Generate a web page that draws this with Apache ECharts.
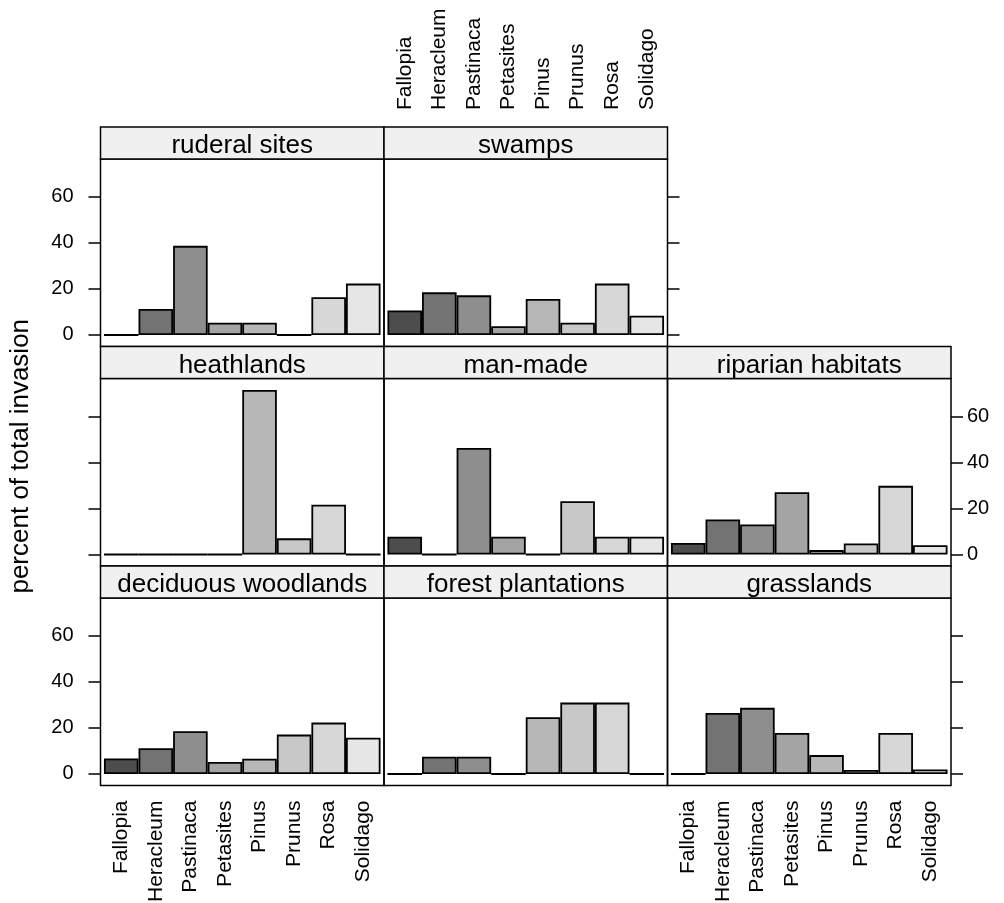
<!DOCTYPE html>
<html>
<head>
<meta charset="utf-8">
<script src="https://cdn.jsdelivr.net/npm/echarts@6/dist/echarts.min.js"></script>
<style>
html,body{margin:0;padding:0;background:#fff;}
#chart{width:1004px;height:903px;}
</style>
</head>
<body>
<div id="chart"></div>
<script>
// ---------------- data ----------------
const species = ['Fallopia', 'Heracleum', 'Pastinaca', 'Petasites', 'Pinus', 'Prunus', 'Rosa', 'Solidago'];
const yTicks = [0, 20, 40, 60];
const yTitle = 'percent of total invasion';

const ruderalSites       = [0, 11.3, 38.7, 5.3, 5.3, 0, 16.4, 22.3];
const swamps             = [10.6, 18.5, 17.2, 3.8, 15.6, 5.3, 22.3, 8.4];
const heathlands         = [0, 0, 0, 0, 71.4, 7.0, 21.6, 0];
const manMade            = [7.7, 0, 46.2, 7.7, 0, 23.1, 7.7, 7.7];
const riparianHabitats   = [5.0, 15.2, 13.0, 27.0, 1.9, 4.8, 29.8, 4.0];
const deciduousWoodlands = [6.7, 11.2, 18.6, 5.2, 6.6, 17.1, 22.3, 15.7];
const forestPlantations  = [0, 7.5, 7.5, 0, 24.6, 31.0, 31.0, 0];
const grasslands         = [0, 26.5, 28.7, 17.8, 8.2, 1.7, 17.8, 2.0];

// ---------------- style / layout ----------------
const barColors = ['#4D4D4D', '#737373', '#8E8E8E', '#A4A4A4', '#B7B7B7', '#C8C8C8', '#D7D7D7', '#E6E6E6'];
const FONT = "'Liberation Sans', Arial, Helvetica, sans-serif";
const Y_MIN = -5, Y_MAX = 76.4, X_MIN = 0.4, X_MAX = 8.6;
const X0 = 100.5, COLW = 283.5, Y0 = 127, ROWH = 219.5, STRIPH = 32, PLOTH = 187.5;

const panels = [
  {name: 'ruderal sites',       values: ruderalSites,       row: 0, col: 0, ySide: 'left',  yLabels: true},
  {name: 'swamps',              values: swamps,             row: 0, col: 1, ySide: 'right', yLabels: false, xSide: 'top'},
  {name: 'heathlands',          values: heathlands,         row: 1, col: 0, ySide: 'left',  yLabels: false},
  {name: 'man-made',            values: manMade,            row: 1, col: 1},
  {name: 'riparian habitats',   values: riparianHabitats,   row: 1, col: 2, ySide: 'right', yLabels: true},
  {name: 'deciduous woodlands', values: deciduousWoodlands, row: 2, col: 0, ySide: 'left',  yLabels: true, xSide: 'bottom'},
  {name: 'forest plantations',  values: forestPlantations,  row: 2, col: 1},
  {name: 'grasslands',          values: grasslands,         row: 2, col: 2, ySide: 'right', yLabels: false, xSide: 'bottom'}
];

const grids = [], xAxes = [], yAxes = [], series = [], graphics = [];

panels.forEach((p, i) => {
  const left = X0 + p.col * COLW;
  const stripTop = Y0 + p.row * ROWH;
  const plotTop = stripTop + STRIPH;

  grids.push({
    left: left, top: plotTop, width: COLW, height: PLOTH,
    show: true, borderColor: '#000', borderWidth: 1.5, backgroundColor: 'transparent',
    containLabel: false, outerBoundsMode: 'none'
  });

  xAxes.push({
    gridIndex: i, type: 'value', min: X_MIN, max: X_MAX,
    position: p.xSide || 'bottom', show: !!p.xSide,
    axisLine: {show: false}, axisTick: {show: false}, splitLine: {show: false},
    axisLabel: {
      show: !!p.xSide, rotate: 90,
      customValues: species.map((s, k) => k + 1),
      formatter: v => species[Math.round(v) - 1] || '',
      margin: p.xSide === 'top' ? 49 : 15,
      fontSize: 21, color: '#000', fontFamily: FONT
    }
  });

  yAxes.push({
    gridIndex: i, type: 'value', min: Y_MIN, max: Y_MAX,
    position: p.ySide || 'left', show: !!p.ySide,
    axisLine: {show: false}, splitLine: {show: false},
    axisTick: {show: !!p.ySide, inside: false, length: 12, customValues: yTicks,
               lineStyle: {color: '#000', width: 1.5}},
    axisLabel: {show: !!p.yLabels, customValues: yTicks,
                margin: p.ySide === 'right' ? 16 : 27,
                fontSize: 20, color: '#000', fontFamily: FONT}
  });

  series.push({
    type: 'bar', xAxisIndex: i, yAxisIndex: i, barWidth: '100%',
    silent: true,
    itemStyle: {borderColor: '#000', borderWidth: 1.8},
    data: p.values.map((v, k) => ({value: [k + 1, v], itemStyle: {color: barColors[k]}}))
  });

  graphics.push({
    type: 'rect', silent: true,
    shape: {x: left, y: stripTop, width: COLW, height: STRIPH},
    style: {fill: '#F0F0F0', stroke: '#000', lineWidth: 1.5}
  });
  graphics.push({
    type: 'text', silent: true,
    x: left + COLW / 2, y: stripTop + 19,
    style: {text: p.name, fontSize: 26, fontFamily: FONT, fill: '#000',
            align: 'center', verticalAlign: 'middle', textAlign: 'center', textVerticalAlign: 'middle'}
  });
});

graphics.push({
  type: 'text', silent: true,
  x: 21, y: Y0 + (3 * ROWH) / 2, rotation: Math.PI / 2,
  style: {text: yTitle, fontSize: 26, fontFamily: FONT, fill: '#000',
          align: 'center', verticalAlign: 'middle', textAlign: 'center', textVerticalAlign: 'middle'}
});

const chart = echarts.init(document.getElementById('chart'), null, {renderer: 'canvas'});
chart.setOption({
  animation: false,
  backgroundColor: '#fff',
  textStyle: {fontFamily: FONT},
  grid: grids,
  xAxis: xAxes,
  yAxis: yAxes,
  series: series,
  graphic: {elements: graphics}
});
</script>
</body>
</html>
